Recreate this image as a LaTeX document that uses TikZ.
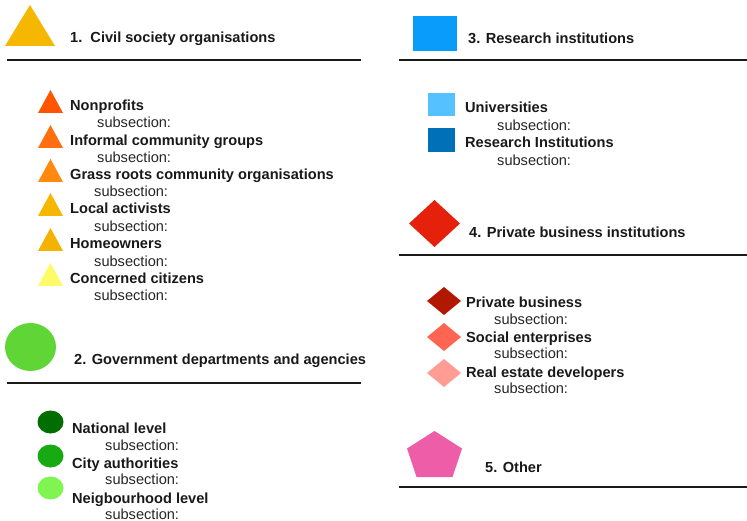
\documentclass[tikz,border=0pt]{standalone}
\usepackage{fontspec}
\setmainfont{Liberation Sans}

\definecolor{civil}{HTML}{F5B700}
\definecolor{nonprofit}{HTML}{FF5500}
\definecolor{informal}{HTML}{FF6F0F}
\definecolor{grassroots}{HTML}{FF8A0F}
\definecolor{activist}{HTML}{F5B700}
\definecolor{homeowner}{HTML}{F4B300}
\definecolor{citizen}{HTML}{FFFB68}
\definecolor{govt}{HTML}{5FD636}
\definecolor{national}{HTML}{006E00}
\definecolor{city}{HTML}{17AA12}
\definecolor{hood}{HTML}{80F552}
\definecolor{research}{HTML}{0A9CFA}
\definecolor{univ}{HTML}{56C1FF}
\definecolor{resinst}{HTML}{0070B8}
\definecolor{business}{HTML}{E5210B}
\definecolor{privbiz}{HTML}{B21800}
\definecolor{social}{HTML}{FF6550}
\definecolor{realestate}{HTML}{FF9C94}
\definecolor{other}{HTML}{EE5EA8}

\tikzset{
  head/.style={anchor=base west, inner sep=0pt, text=black!90,
    font=\fontsize{14.6}{17}\selectfont\bfseries},
  sub/.style={anchor=base west, inner sep=0pt, text=black!85,
    font=\fontsize{14.6}{17}\selectfont},
  rule/.style={line width=1.6pt, black!90},
}

\begin{document}
\begin{tikzpicture}[x=1pt, y=-1pt]
\useasboundingbox (0,0) rectangle (747,521);

% 1. civil society
\fill[civil] (5,46) -- (30,5) -- (55,46) -- cycle;
\node[head] (civil) at (70,43) {1.\ \ Civil society organisations};
\draw[rule] (7,60) -- (361,60);

\foreach \b/\c in {111/nonprofit, 146/informal, 180/grassroots, 214/activist, 249/homeowner, 284/citizen}
  \fill[\c] (38,\b+2) -- (50.5,\b-21) -- (63,\b+2) -- cycle;

\node[head] (np) at (70,111) {Nonprofits};
\node[sub] (np-sub) at (97,128) {subsection:};
\node[head] (inf) at (70,146) {Informal community groups};
\node[sub] (inf-sub) at (97,163) {subsection:};
\node[head] (grass) at (70,180) {Grass roots community organisations};
\node[sub] (grass-sub) at (94,197) {subsection:};
\node[head] (act) at (70,214) {Local activists};
\node[sub] (act-sub) at (94,232) {subsection:};
\node[head] (home) at (70,249) {Homeowners};
\node[sub] (home-sub) at (94,267) {subsection:};
\node[head] (cit) at (70,284) {Concerned citizens};
\node[sub] (cit-sub) at (94,301) {subsection:};

% 2. government
\fill[govt] (30.5,347) ellipse [x radius=25.5, y radius=24];
\node[head] (govt) at (74,364) {2. Government departments and agencies};
\draw[rule] (7,383) -- (361,383);

\fill[national] (50.5,422) ellipse [x radius=13, y radius=11.5];
\fill[city] (50.5,456) ellipse [x radius=13, y radius=11.5];
\fill[hood] (50.5,488) ellipse [x radius=13, y radius=11.5];
\node[head] (nat) at (72,433) {National level};
\node[sub] (nat-sub) at (105,450) {subsection:};
\node[head] (city) at (72,468) {City authorities};
\node[sub] (city-sub) at (105,484) {subsection:};
\node[head] (hood) at (72,503) {Neigbourhood level};
\node[sub] (hood-sub) at (105,519) {subsection:};

% 3. research
\fill[research] (413,16) rectangle (457,51);
\node[head] (res) at (468,44) {3. Research institutions};
\draw[rule] (399,60) -- (747,60);

\fill[univ] (428,93) rectangle (455,116);
\fill[resinst] (428,128) rectangle (455,152);
\node[head] (uni) at (465,113) {Universities};
\node[sub] (uni-sub) at (497,131) {subsection:};
\node[head] (ri) at (465,148) {Research Institutions};
\node[sub] (ri-sub) at (497,166) {subsection:};

% 4. private business
\fill[business] (409,223.5) -- (434.5,200) -- (460,223.5) -- (434.5,247) -- cycle;
\node[head] (biz) at (469,238) {4. Private business institutions};
\draw[rule] (399,255) -- (747,255);

\foreach \y/\c in {301/privbiz, 337/social, 373/realestate}
  \fill[\c] (427,\y) -- (444,\y-14) -- (461,\y) -- (444,\y+14) -- cycle;
\node[head] (pb) at (466,308) {Private business};
\node[sub] (pb-sub) at (494,325) {subsection:};
\node[head] (se) at (466,342) {Social enterprises};
\node[sub] (se-sub) at (494,359) {subsection:};
\node[head] (re) at (466,377) {Real estate developers};
\node[sub] (re-sub) at (494,393) {subsection:};

% 5. other
\fill[other] (434.5,431) -- (462,448.5) -- (452.5,477) -- (416.5,477) -- (407,448.5) -- cycle;
\node[head] (oth) at (485,472) {5. Other};
\draw[rule] (399,487) -- (747,487);
\end{tikzpicture}
\end{document}
